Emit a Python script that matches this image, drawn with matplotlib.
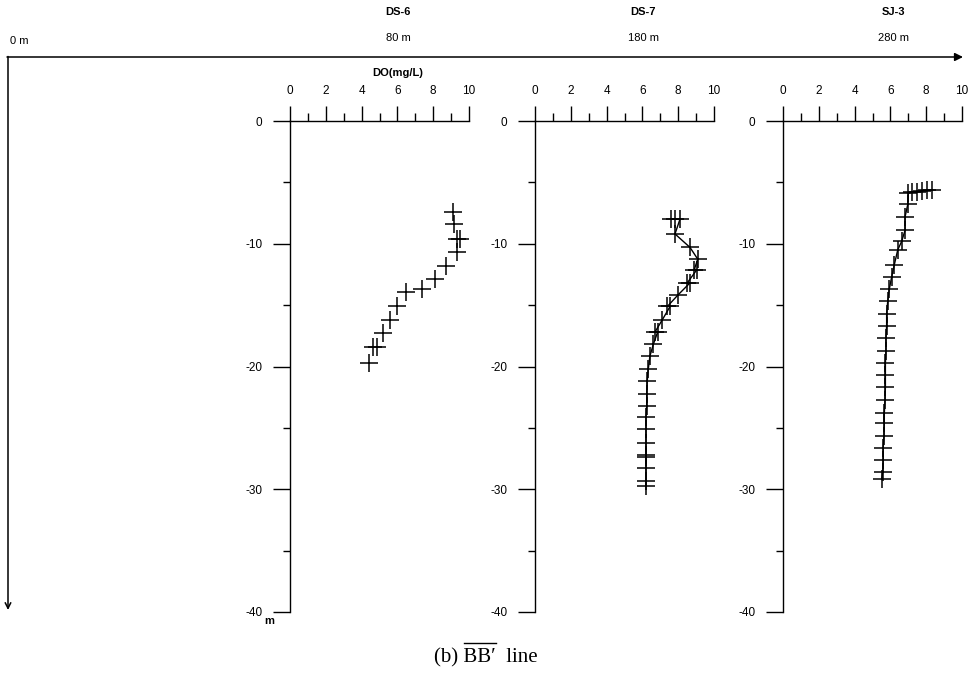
import matplotlib
matplotlib.use("Agg")
import matplotlib.pyplot as plt
from matplotlib.ticker import MultipleLocator

plt.rcParams['font.family'] = ['Liberation Sans', 'DejaVu Sans']

# ---------------- data ----------------
stations = ["DS-6", "DS-7", "SJ-3"]
distances = ["80 m", "180 m", "280 m"]

ds6_do = [9.09, 9.18, 9.35, 9.52, 9.31, 8.70, 8.10, 7.39, 6.46, 5.96, 5.59, 5.21, 4.65, 4.85, 4.43]
ds6_depth = [-7.4, -8.4, -9.6, -9.6, -10.7, -11.8, -12.9, -13.7, -13.9, -15.1, -16.2, -17.3, -18.4, -18.4, -19.7]

ds7_do = [7.6, 7.8, 8.1, 7.82, 8.66, 9.09, 8.90, 9.05, 8.50, 8.65, 7.97, 7.40, 7.55, 7.11,
          6.70, 6.85, 6.61, 6.42, 6.33, 6.27, 6.24, 6.24, 6.20, 6.20, 6.20, 6.20, 6.20, 6.20, 6.20, 6.20]
ds7_depth = [-8.0, -8.0, -8.0, -9.2, -10.3, -11.25, -12.1, -12.1, -13.2, -13.2, -14.2, -15.1, -15.1, -16.2,
             -17.2, -17.2, -18.2, -19.15, -20.2, -21.2, -22.2, -23.2, -24.15, -25.1, -26.2, -27.2, -27.35,
             -28.3, -29.35, -29.7]

sj3_do = [8.31, 8.03, 7.75, 7.47, 7.19, 7.00, 6.97, 6.82, 6.82, 6.63, 6.41, 6.22, 6.07, 5.94, 5.85,
          5.79, 5.79, 5.75, 5.75, 5.72, 5.72, 5.72, 5.70, 5.66, 5.66, 5.64, 5.60, 5.60, 5.57, 5.51]
sj3_depth = [-5.6, -5.65, -5.7, -5.75, -5.8, -5.9, -6.8, -7.8, -8.9, -9.8, -10.5, -11.7, -12.7, -13.7, -14.7,
             -15.7, -16.7, -17.7, -18.7, -19.75, -20.7, -21.7, -22.7, -23.8, -24.6, -25.65, -26.6, -27.6,
             -28.6, -29.2]

x_ticks = [0, 2, 4, 6, 8, 10]
y_ticks = [0, -10, -20, -30, -40]

series = [(ds6_do, ds6_depth, False), (ds7_do, ds7_depth, True), (sj3_do, sj3_depth, True)]

# ---------------- figure ----------------
W, H = 971, 691
fig = plt.figure(figsize=(W / 100, H / 100), dpi=100)

bg = fig.add_axes([0, 0, 1, 1], zorder=0)
bg.set_xlim(0, W)
bg.set_ylim(H, 0)
bg.axis('off')

# section arrows
bg.annotate("", xy=(963, 57), xytext=(7, 57),
            arrowprops=dict(arrowstyle='-|>', color='black', lw=1.1, mutation_scale=12, shrinkA=0, shrinkB=0))
bg.annotate("", xy=(8, 610), xytext=(8, 56.5),
            arrowprops=dict(arrowstyle='->', color='black', lw=1.1, mutation_scale=10, shrinkA=0, shrinkB=0))

bg.text(10, 41, "0 m", fontsize=8, ha='left', va='center')
cx = [398, 643, 893]
for name, dist, x in zip(stations, distances, cx):
    bg.text(x, 12, name, fontsize=8, fontweight='bold', ha='center', va='center')
    bg.text(x, 38, dist, fontsize=8, ha='center', va='center')

bg.text(398, 73, "DO(mg/L)", fontsize=8, fontweight='bold', ha='center', va='center')
bg.text(269, 621, "m", fontsize=8, fontweight='bold', ha='center', va='center')

# caption with overline over BB'
cap_props = dict(fontsize=15, family=['Liberation Serif', 'DejaVu Serif'])
full = "(b) BB\u2032  line"
bg.text(486, 658, full, ha='center', va='center', **cap_props)
fig.canvas.draw()
r = fig.canvas.get_renderer()
def width_of(s):
    t = bg.text(0, 0, s, **cap_props)
    w = t.get_window_extent(renderer=r).width
    t.remove()
    return w
w_full = width_of(full)
w_pre = width_of("(b) BB\u2032")
w_bb = width_of("BB\u2032")
x_left = 486 - w_full / 2
x0 = x_left + w_pre - w_bb
x1 = x_left + w_pre
bg.plot([x0, x1], [643, 643], color='black', lw=1.0)

lefts = [290, 535, 783]
top_px, bot_px, width_px = 121, 612, 179
for (do, depth, connect), lp in zip(series, lefts):
    ax = fig.add_axes([lp / W, 1 - bot_px / H, width_px / W, (bot_px - top_px) / H], zorder=1)
    ax.patch.set_alpha(0)
    if connect:
        ax.plot(do, depth, color='black', lw=1.0)
    ax.plot(do, depth, linestyle='none', marker='+', markersize=13, markeredgewidth=1.1, color='black')
    ax.set_xlim(0, 10)
    ax.set_ylim(-40, 0)
    for s in ['right', 'bottom']:
        ax.spines[s].set_visible(False)
    for s in ['left', 'top']:
        ax.spines[s].set_linewidth(1.0)
    ax.xaxis.tick_top()
    ax.set_xticks(x_ticks)
    ax.xaxis.set_minor_locator(MultipleLocator(1))
    ax.set_yticks(y_ticks)
    ax.yaxis.set_minor_locator(MultipleLocator(5))
    ax.tick_params(axis='x', which='major', direction='out', length=11, width=1, labelsize=8.5, pad=6)
    ax.tick_params(axis='x', which='minor', direction='out', length=5.5, width=1)
    ax.tick_params(axis='y', which='major', direction='out', length=12, width=1, labelsize=8.5, pad=8)
    ax.tick_params(axis='y', which='minor', direction='out', length=5, width=1)
    ax.set_yticklabels([str(v) for v in y_ticks])

fig.savefig("out.png", dpi=100)
